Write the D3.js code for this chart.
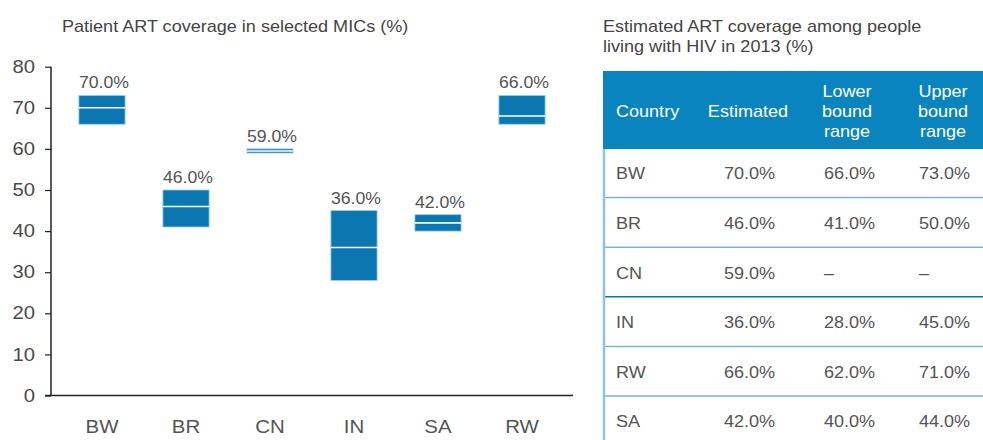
<!DOCTYPE html>
<html>
<head>
<meta charset="utf-8">
<script src="https://cdn.jsdelivr.net/npm/d3@7"></script>
<style>
  body { margin: 0; background: #fff; }
  svg { display: block; font-family: "Liberation Sans", Arial, sans-serif; }
</style>
</head>
<body>
<div class="chart"></div>
<script>
// values (left panel)
const countries = ["BW", "BR", "CN", "IN", "SA", "RW"];
const lows      = [66, 41, 59, 28, 40, 66];
const highs     = [73, 50, 60, 45, 44, 73];
const marks     = [70, 46, 59.5, 36, 42, 68];
const labels    = ["70.0%", "46.0%", "59.0%", "36.0%", "42.0%", "66.0%"];
const yTicks    = [0, 10, 20, 30, 40, 50, 60, 70, 80];

// table (right panel)
const tableHead  = ["Country", "Estimated", "Lower\nbound\nrange", "Upper\nbound\nrange"];
const tableRows  = ["BW", "BR", "CN", "IN", "RW", "SA"];
const estimated  = ["70.0%", "46.0%", "59.0%", "36.0%", "66.0%", "42.0%"];
const lowerRange = ["66.0%", "41.0%", "–", "28.0%", "62.0%", "40.0%"];
const upperRange = ["73.0%", "50.0%", "–", "45.0%", "71.0%", "44.0%"];

const W = 983, H = 440;
const FONT = "Liberation Sans, Arial, sans-serif";
const STRETCH = 1.15;   // source text is a bit wide
const svg = d3.select(".chart").append("svg")
    .attr("width", W).attr("height", H);

// widen glyphs horizontally around the text's own x anchor
function stretch(sel, s = STRETCH) {
    sel.each(function() {
        const ax = +this.getAttribute("x") || 0;
        d3.select(this).attr("transform",
            `translate(${ax * (1 - s)},0) scale(${s},1)`);
    });
}

// ---- left chart ----
svg.append("text")
    .attr("x", 62).attr("y", 32.5)
    .attr("font-size", 15.7).attr("fill", "#444")
    .text("Patient ART coverage in selected MICs (%)")
    .call(stretch);

const x = d3.scaleBand().domain(countries).range([60, 564])
    .paddingInner(0.45).paddingOuter(0.225);
const y = d3.scaleLinear().domain([0, 80]).range([395.5, 66.7]);

const yAxis = svg.append("g")
    .attr("transform", "translate(51,0)")
    .call(d3.axisLeft(y).tickValues(yTicks).tickSize(6).tickPadding(10));
yAxis.select(".domain").attr("stroke", "#222").attr("stroke-width", 1.5)
    .attr("d", `M0,${y(0)}V${y(80)}`);
yAxis.selectAll(".tick line").attr("stroke", "#222").attr("stroke-width", 1.2);
yAxis.selectAll(".tick text").attr("font-size", 17.6).attr("fill", "#4a4a4a")
    .attr("font-family", FONT).call(stretch);

svg.append("line")
    .attr("x1", 45).attr("x2", 573)
    .attr("y1", y(0)).attr("y2", y(0))
    .attr("stroke", "#222").attr("stroke-width", 1.5);

const xAxis = svg.append("g")
    .attr("transform", `translate(0,${y(0)})`)
    .call(d3.axisBottom(x).tickSize(0).tickPadding(25));
xAxis.select(".domain").remove();
xAxis.selectAll(".tick text").attr("font-size", 17.8).attr("fill", "#555")
    .attr("font-family", FONT).call(stretch);

const boxes = svg.append("g").selectAll("g")
    .data(countries).join("g");

boxes.append("rect")
    .attr("x", d => x(d))
    .attr("width", x.bandwidth())
    .attr("y", (d, i) => y(highs[i]))
    .attr("height", (d, i) => y(lows[i]) - y(highs[i]))
    .attr("fill", "#0a77b0")
    .attr("stroke", "#9fcce6").attr("stroke-width", 0.8);

boxes.append("line")
    .attr("x1", d => x(d)).attr("x2", d => x(d) + x.bandwidth())
    .attr("y1", (d, i) => y(marks[i])).attr("y2", (d, i) => y(marks[i]))
    .attr("stroke", "#fff").attr("stroke-width", 1.6);

boxes.append("text")
    .attr("x", d => x(d) + x.bandwidth() / 2 + 2)
    .attr("y", (d, i) => y(highs[i]) - 7)
    .attr("text-anchor", "middle")
    .attr("font-size", 16.5).attr("fill", "#555")
    .text((d, i) => labels[i])
    .call(stretch, 1.07);

// ---- right table ----
const tx = 603;
svg.append("text")
    .attr("x", tx).attr("y", 32.5)
    .attr("font-size", 15.7).attr("fill", "#444")
    .text("Estimated ART coverage among people")
    .call(stretch);
svg.append("text")
    .attr("x", tx).attr("y", 52.5)
    .attr("font-size", 15.7).attr("fill", "#444")
    .text("living with HIV in 2013 (%)")
    .call(stretch);

svg.append("rect")
    .attr("x", tx).attr("y", 71)
    .attr("width", W - tx).attr("height", 78)
    .attr("fill", "#0a84bf");

const colX = [616, 748, 847, 943];   // header positions
const valX = [616, 724, 824, 919];   // cell left edges

tableHead.forEach((h, c) => {
    const lines = h.split("\n");
    lines.forEach((ln, k) => {
        svg.append("text")
            .attr("x", colX[c])
            .attr("y", 111.7 + 5.6 + (k - (lines.length - 1) / 2) * 20)
            .attr("text-anchor", c === 0 ? "start" : "middle")
            .attr("font-size", 15.7).attr("fill", "#fff")
            .text(ln)
            .call(stretch);
    });
});

const rowY = d3.scaleBand().domain(tableRows).range([148, 148 + 49.6 * 6]);

tableRows.forEach((r, i) => {
    const cy = rowY(r) + rowY.bandwidth() / 2 + 1;
    [r, estimated[i], lowerRange[i], upperRange[i]].forEach((v, c) => {
        svg.append("text")
            .attr("x", valX[c]).attr("y", cy + 5.6)
            .attr("font-size", 15.7).attr("fill", "#555")
            .text(v)
            .call(stretch);
    });
    if (i < tableRows.length - 1) {
        svg.append("line")
            .attr("x1", tx).attr("x2", W)
            .attr("y1", rowY(r) + rowY.bandwidth()).attr("y2", rowY(r) + rowY.bandwidth())
            .attr("stroke", i === 2 ? "#0a72b0" : "#78b5da")
            .attr("stroke-width", 1.5);
    }
});

svg.append("line")
    .attr("x1", tx + 1).attr("x2", tx + 1)
    .attr("y1", 149).attr("y2", H)
    .attr("stroke", "#8fc3e2").attr("stroke-width", 2.5);
</script>
</body>
</html>
